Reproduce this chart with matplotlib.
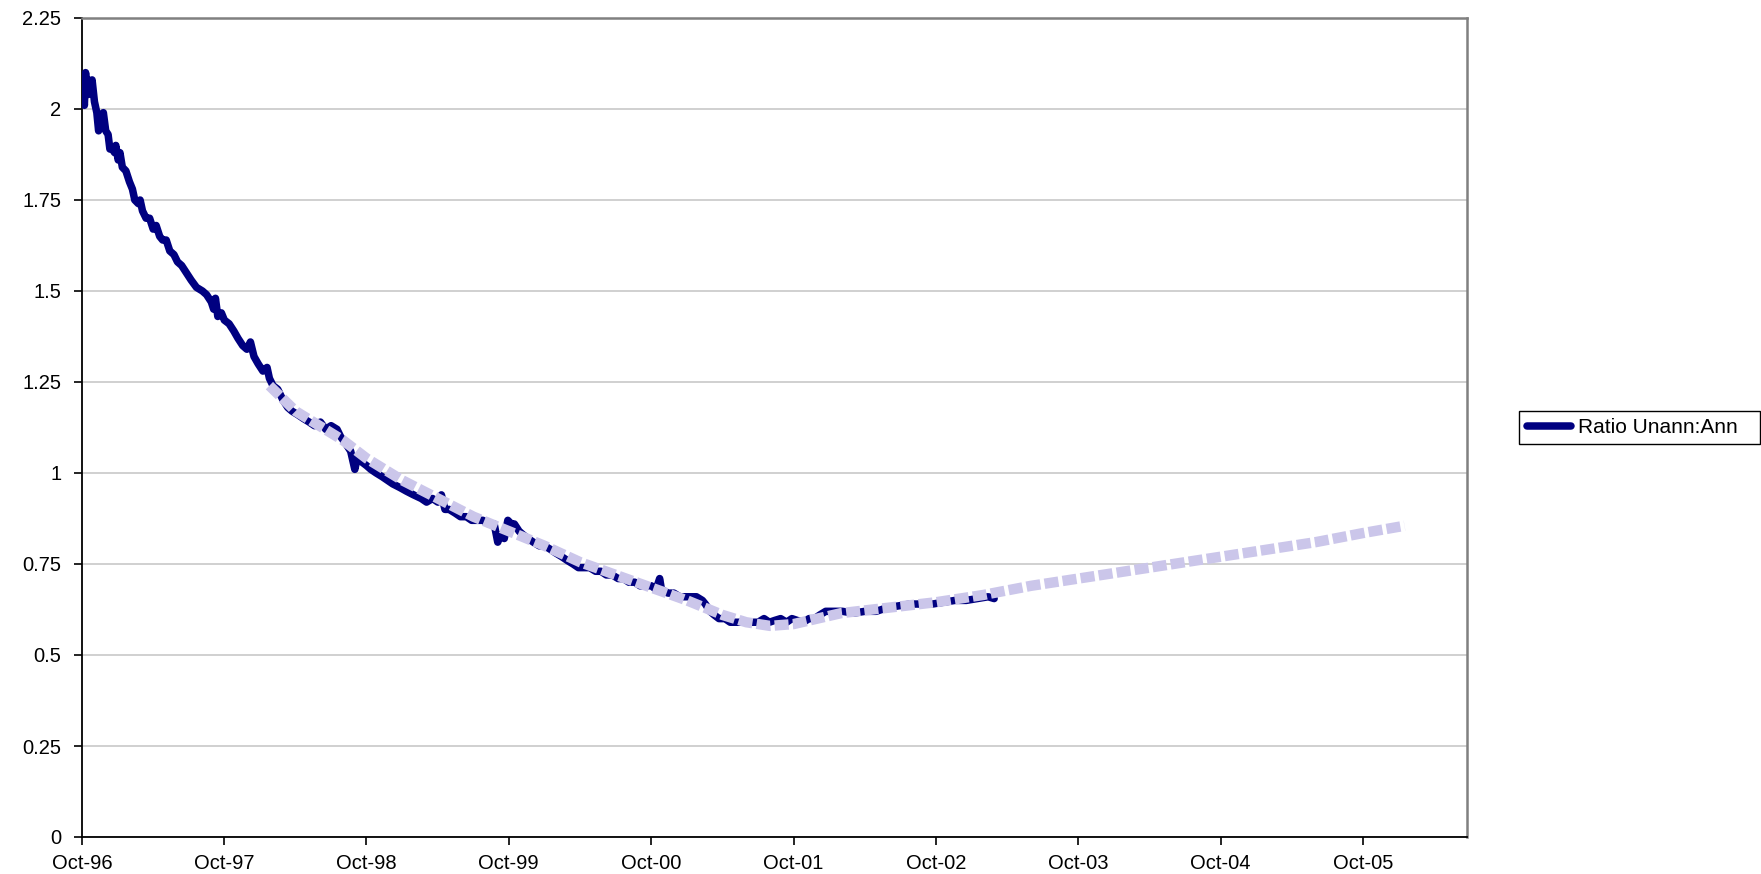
import numpy as np
import pandas as pd
import matplotlib
matplotlib.use("Agg")
import matplotlib.pyplot as plt
import matplotlib.dates as mdates
from matplotlib.patches import Rectangle

plt.rcParams['font.family'] = ['Liberation Sans', 'DejaVu Sans']

# months after Oct-96 and ratio
dark_months = [0, 0.1, 0.2, 0.3, 0.4, 0.5, 0.55, 0.65, 0.75, 0.85, 1.05, 1.25, 1.4, 1.6, 1.8,
               2.0, 2.2, 2.35, 2.55, 2.75, 2.85, 3.05, 3.2, 3.4, 3.7, 4.0, 4.25, 4.45, 4.75,
               4.9, 5.1, 5.4, 5.7, 6.0, 6.25, 6.55, 6.8, 7.1, 7.4, 7.75, 8.05, 8.4, 8.8, 9.2,
               9.65, 10.15, 10.5, 10.9, 11.1, 11.25, 11.45, 11.75, 12.0, 12.4, 12.8, 13.15,
               13.55, 13.9, 14.2, 14.5, 14.85, 15.25, 15.6, 15.8, 16.1, 16.5, 16.95, 17.35,
               17.7, 18.2, 18.65, 19.15, 19.6, 20.1, 20.55, 21.0, 21.5, 21.8, 22.25, 22.65,
               23.0, 23.2, 23.6, 24.0, 24.35, 24.8, 25.3, 25.75, 26.2, 26.8, 27.35, 27.95,
               28.6, 29.05, 29.55, 30.0, 30.3, 30.6, 30.95, 31.45, 31.9, 32.4, 32.85, 33.3,
               33.8, 34.3, 34.75, 35.05, 35.3, 35.6, 35.9, 36.2, 36.45, 36.85, 37.2, 37.6,
               38.05, 38.55, 39.0, 39.5, 39.95, 40.45, 40.9, 41.4, 41.85, 42.35, 42.8, 43.3,
               43.75, 44.2, 44.7, 45.2, 45.65, 46.1, 46.6, 47.05, 47.55, 48.0, 48.4, 48.7,
               48.85, 49.4, 49.9, 50.4, 50.85, 51.3, 51.8, 52.3, 52.55, 52.95, 53.3, 53.7,
               54.2, 54.65, 55.1, 55.6, 56.05, 56.55, 57.0, 57.5, 57.95, 58.4, 58.9, 59.4,
               59.85, 60.3, 60.8, 61.3, 61.75, 62.2, 62.7, 63.15, 63.65, 64.1, 65.05, 66.0,
               66.95, 67.9, 68.85, 69.8, 70.75, 71.7, 72.65, 73.6, 74.55, 75.5, 76.4, 76.9]
dark_values = [2.02, 2.06, 2.01, 2.10, 2.06, 2.08, 2.04, 2.07, 2.05, 2.08, 2.02, 1.99, 1.94, 1.98, 1.99,
               1.94, 1.93, 1.89, 1.89, 1.88, 1.90, 1.86, 1.88, 1.84, 1.83, 1.80, 1.78, 1.75, 1.74,
               1.75, 1.72, 1.70, 1.70, 1.67, 1.68, 1.65, 1.64, 1.64, 1.61, 1.60, 1.58, 1.57, 1.55, 1.53,
               1.51, 1.50, 1.49, 1.47, 1.45, 1.48, 1.43, 1.44, 1.42, 1.41, 1.39, 1.37,
               1.35, 1.34, 1.36, 1.32, 1.30, 1.28, 1.29, 1.26, 1.24, 1.23, 1.20, 1.18,
               1.17, 1.16, 1.15, 1.14, 1.13, 1.14, 1.12, 1.13, 1.12, 1.10, 1.08, 1.06,
               1.01, 1.04, 1.03, 1.02, 1.01, 1.00, 0.99, 0.98, 0.97, 0.96, 0.95, 0.94,
               0.93, 0.92, 0.93, 0.92, 0.94, 0.90, 0.90, 0.89, 0.88, 0.88, 0.87, 0.87,
               0.87, 0.86, 0.86, 0.81, 0.83, 0.82, 0.87, 0.86, 0.86, 0.84, 0.83, 0.82,
               0.81, 0.80, 0.80, 0.79, 0.78, 0.77, 0.76, 0.75, 0.74, 0.74, 0.74, 0.73,
               0.73, 0.72, 0.72, 0.71, 0.71, 0.70, 0.70, 0.69, 0.69, 0.69, 0.68, 0.71,
               0.68, 0.67, 0.67, 0.66, 0.66, 0.66, 0.66, 0.65, 0.64, 0.62, 0.61, 0.60,
               0.60, 0.59, 0.59, 0.59, 0.59, 0.59, 0.59, 0.60, 0.59, 0.595, 0.60, 0.59,
               0.60, 0.595, 0.59, 0.60, 0.60, 0.61, 0.62, 0.62, 0.62, 0.62, 0.615, 0.62,
               0.62, 0.63, 0.635, 0.64, 0.64, 0.64, 0.645, 0.65, 0.65, 0.655, 0.66, 0.655]

trend_months = [15.8, 18, 20, 22, 24, 27, 30, 33, 36, 39, 42, 45, 48, 51, 54, 56, 58, 60, 62,
                64, 68, 72, 76, 80, 84, 88, 92, 96, 100, 104, 108, 111.5]
trend_values = [1.24, 1.17, 1.13, 1.09, 1.04, 0.98, 0.93, 0.88, 0.84, 0.80, 0.755, 0.72, 0.685,
                0.65, 0.61, 0.59, 0.58, 0.585, 0.60, 0.615, 0.63, 0.645, 0.665, 0.69, 0.71,
                0.73, 0.75, 0.77, 0.79, 0.81, 0.835, 0.855]

series_name = "Ratio Unann:Ann"
y_ticks = [0, 0.25, 0.5, 0.75, 1, 1.25, 1.5, 1.75, 2, 2.25]
y_labels = ["0", "0.25", "0.5", "0.75", "1", "1.25", "1.5", "1.75", "2", "2.25"]

start = pd.Timestamp("1996-10-01")
def to_dates(months):
    return start + pd.to_timedelta(np.array(months) * 30.4375, unit="D")

W, H = 1761, 874
fig = plt.figure(figsize=(W / 100, H / 100), dpi=100)
ax = fig.add_axes([82 / W, 1 - 837 / H, (1467 - 82) / W, (837 - 18) / H])

ax.plot(to_dates(dark_months), dark_values, color="#000080", lw=5.4,
        solid_joinstyle="round", solid_capstyle="round", label=series_name, zorder=3)
ax.plot(to_dates(trend_months), trend_values, color="#CBC6EA", lw=7.5,
        linestyle=(0, (1.35, 0.4)), zorder=4)

ax.set_ylim(0, 2.25)
ax.set_xlim(start, pd.Timestamp("2006-06-25"))
ax.set_yticks(y_ticks)
ax.set_yticklabels(y_labels)
ax.xaxis.set_major_locator(mdates.YearLocator(base=1, month=10, day=1))
ax.xaxis.set_major_formatter(mdates.DateFormatter("%b-%y"))

ax.grid(axis="y", color="#C8C8C8", lw=1.2)
ax.set_axisbelow(True)
ax.tick_params(axis="both", direction="out", length=6, width=1.2, colors="black",
               labelsize=14.5)
ax.tick_params(axis="y", pad=9)
ax.tick_params(axis="x", pad=6)
for s in ["left", "bottom"]:
    ax.spines[s].set_color("black")
    ax.spines[s].set_linewidth(1.3)
for s in ["top", "right"]:
    ax.spines[s].set_color("#808080")
    ax.spines[s].set_linewidth(1.8)

# legend box as in the original (fixed size, extra room on the right)
fig.patches.append(Rectangle((1519 / W, 1 - 444 / H), (1760 - 1519) / W, 33 / H,
                             transform=fig.transFigure, facecolor="white",
                             edgecolor="black", lw=1.0, zorder=5))
leg = fig.legend(loc="center left", bbox_to_anchor=(1527 / W, 1 - 427.5 / H),
                 fontsize=15, frameon=False, borderaxespad=0,
                 handlelength=2.1, handletextpad=0.35, borderpad=0)
leg.set_zorder(6)

fig.savefig("out.png", dpi=100)
